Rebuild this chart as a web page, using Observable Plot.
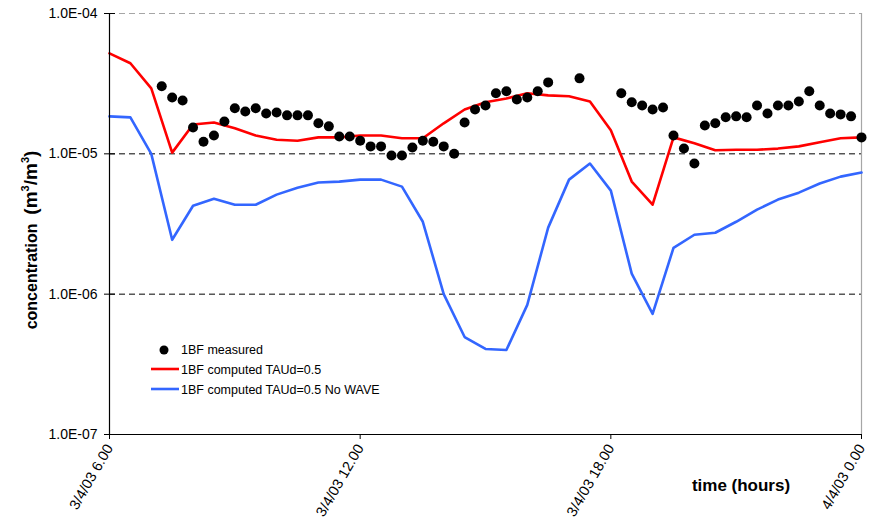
<!DOCTYPE html>
<html><head><meta charset="utf-8">
<script src="https://cdn.jsdelivr.net/npm/d3@7"></script>
<script src="https://cdn.jsdelivr.net/npm/@observablehq/plot@0.6"></script>
<style>body{margin:0;background:#fff} svg{display:block}</style>
</head><body><div id="chart"></div>
<script>
// ---- data (hours since 3/4/03 0:00) ----
const computedHours = [6,6.5,7,7.5,8,8.5,9,9.5,10,10.5,11,11.5,12,12.5,13,13.5,14,14.5,15,15.5,16,16.5,17,17.5,18,18.5,19,19.5,20,20.5,21,21.5,22,22.5,23,23.5,24];
const computedWave = [5.20e-5,4.42e-5,2.93e-5,1.02e-5,1.62e-5,1.67e-5,1.52e-5,1.35e-5,1.26e-5,1.24e-5,1.31e-5,1.31e-5,1.35e-5,1.35e-5,1.29e-5,1.29e-5,1.65e-5,2.07e-5,2.33e-5,2.48e-5,2.70e-5,2.61e-5,2.57e-5,2.36e-5,1.47e-5,6.34e-6,4.34e-6,1.31e-5,1.19e-5,1.06e-5,1.07e-5,1.07e-5,1.09e-5,1.13e-5,1.21e-5,1.29e-5,1.31e-5];
const computedNoWave = [1.85e-5,1.82e-5,1.00e-5,2.44e-6,4.27e-6,4.79e-6,4.34e-6,4.34e-6,5.12e-6,5.74e-6,6.24e-6,6.34e-6,6.55e-6,6.55e-6,5.84e-6,3.28e-6,1.00e-6,4.95e-7,4.07e-7,4.00e-7,8.39e-7,2.98e-6,6.55e-6,8.53e-6,5.47e-6,1.40e-6,7.23e-7,2.14e-6,2.65e-6,2.74e-6,3.28e-6,4.00e-6,4.72e-6,5.29e-6,6.14e-6,6.88e-6,7.35e-6];
const measuredHours = [7.25,7.5,7.75,8,8.25,8.5,8.75,9,9.25,9.5,9.75,10,10.25,10.5,10.75,11,11.25,11.5,11.75,12,12.25,12.5,12.75,13,13.25,13.5,13.75,14,14.25,14.5,14.75,15,15.25,15.5,15.75,16,16.25,16.5,17.25,18.25,18.5,18.75,19,19.25,19.5,19.75,20,20.25,20.5,20.75,21,21.25,21.5,21.75,22,22.25,22.5,22.75,23,23.25,23.5,23.75,24];
const measuredValues = [3.03e-5,2.52e-5,2.40e-5,1.54e-5,1.22e-5,1.35e-5,1.70e-5,2.11e-5,2.00e-5,2.11e-5,1.94e-5,1.97e-5,1.88e-5,1.88e-5,1.88e-5,1.65e-5,1.57e-5,1.33e-5,1.33e-5,1.24e-5,1.13e-5,1.13e-5,9.72e-6,9.72e-6,1.11e-5,1.24e-5,1.22e-5,1.13e-5,1.00e-5,1.67e-5,2.07e-5,2.21e-5,2.70e-5,2.79e-5,2.44e-5,2.52e-5,2.79e-5,3.23e-5,3.45e-5,2.70e-5,2.33e-5,2.21e-5,2.07e-5,2.14e-5,1.35e-5,1.09e-5,8.53e-6,1.59e-5,1.65e-5,1.82e-5,1.85e-5,1.82e-5,2.21e-5,1.94e-5,2.21e-5,2.21e-5,2.36e-5,2.79e-5,2.21e-5,1.94e-5,1.91e-5,1.85e-5,1.31e-5];
const yTickValues = [1e-4,1e-5,1e-6,1e-7];
const yTickLabels = ["1.0E-04","1.0E-05","1.0E-06","1.0E-07"];
const xTickHours = [6,12,18,24];
const xTickLabels = ["3/4/03 6.00","3/4/03 12.00","3/4/03 18.00","4/4/03 0.00"];
const seriesNames = ["1BF measured","1BF computed TAUd=0.5","1BF computed TAUd=0.5 No WAVE"];
const xTitle = "time (hours)";
const yTitleMain = "concentration";

// ---- tables ----
const wave = computedHours.map((h,i)=>({h, v: computedWave[i]}));
const noWave = computedHours.map((h,i)=>({h, v: computedNoWave[i]}));
const measured = measuredHours.map((h,i)=>({h, v: measuredValues[i]}));
const yLab = new Map(yTickValues.map((d,i)=>[d, yTickLabels[i]]));
const xLab = new Map(xTickHours.map((d,i)=>[d, xTickLabels[i]]));

const RED = "#ff0000", BLUE = "#3366ff";
const FONT = "Arial, 'Liberation Sans', sans-serif";

const plot = Plot.plot({
  width: 873, height: 527,
  marginLeft: 109, marginRight: 12, marginTop: 13, marginBottom: 93,
  style: {fontFamily: FONT, background: "#fff", color: "#000"},
  x: {type: "linear", domain: [6, 24]},
  y: {type: "log", domain: [1e-7, 1e-4]},
  marks: [
    Plot.ruleY([1e-5, 1e-6], {stroke: "#000", strokeDasharray: "6,4", strokeWidth: 1}),
    Plot.ruleY([1e-4], {stroke: "#a6a6a6", strokeDasharray: "6,4", strokeWidth: 1.2}),
    Plot.ruleX([24], {stroke: "#a6a6a6", strokeWidth: 1.2}),
    Plot.line(noWave, {x: "h", y: "v", stroke: BLUE, strokeWidth: 2.6}),
    Plot.line(wave, {x: "h", y: "v", stroke: RED, strokeWidth: 2.6}),
    Plot.dot(measured, {x: "h", y: "v", r: 5, fill: "#000", stroke: "none"}),
    Plot.ruleX([6], {stroke: "#000", strokeWidth: 1.2}),
    Plot.ruleY([1e-7], {stroke: "#000", strokeWidth: 1.2}),
    Plot.axisY(yTickValues, {tickSize: 5, tickPadding: 7, tickFormat: d => yLab.get(d), fontSize: 14, label: null}),
    Plot.axisY(yTickValues, {tickSize: -6, tickFormat: () => "", label: null}),
    Plot.axisX(xTickHours, {tickSize: 5, tickPadding: 6, tickRotate: -60, tickFormat: d => xLab.get(d), fontSize: 14.5, label: null})
  ]
});
document.getElementById("chart").appendChild(plot);

// ---- legend and titles ----
const svg = d3.select(plot);
const lg = svg.append("g").attr("font-family", FONT).attr("font-size", 12.5).attr("fill", "#000").attr("text-anchor", "start");
lg.append("circle").attr("cx", 164).attr("cy", 350).attr("r", 4.5).attr("fill", "#000");
lg.append("line").attr("x1", 151).attr("x2", 179).attr("y1", 369).attr("y2", 369).attr("stroke", RED).attr("stroke-width", 2.6);
lg.append("line").attr("x1", 151).attr("x2", 179).attr("y1", 389).attr("y2", 389).attr("stroke", BLUE).attr("stroke-width", 2.6);
seriesNames.forEach((s, i) => {
  lg.append("text").attr("x", 181).attr("y", 354 + 20 * i).attr("text-anchor", "start").text(s);
});

svg.append("text").attr("x", 741).attr("y", 491).attr("text-anchor", "middle")
  .attr("font-family", FONT).attr("font-weight", "bold").attr("font-size", 17).attr("fill", "#000").text(xTitle);

const yt = svg.append("text").attr("transform", "translate(37,240) rotate(-90)").attr("text-anchor", "middle")
  .attr("font-family", FONT).attr("font-weight", "bold").attr("font-size", 16).attr("fill", "#000");
yt.append("tspan").text(yTitleMain + "\u00a0\u00a0");
const u = yt.append("tspan").attr("font-size", 19);
u.append("tspan").text("(m");
u.append("tspan").attr("font-size", 11).attr("dy", -8).text("3");
u.append("tspan").attr("dy", 8).text("/m");
u.append("tspan").attr("font-size", 11).attr("dy", -8).text("3");
u.append("tspan").attr("dy", 8).text(")");
</script>
</body></html>
